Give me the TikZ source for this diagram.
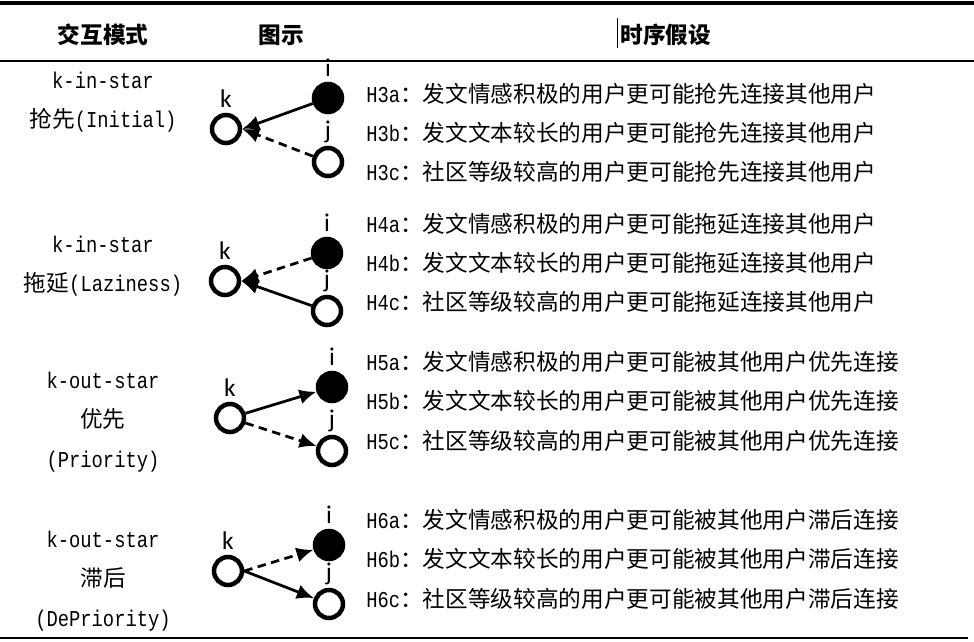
\documentclass[tikz,border=0pt]{standalone}
\usepackage{fontspec}
\usepackage{graphicx}
\setmainfont{Noto Sans CJK SC}
\newfontfamily\halfw{Liberation Mono}
\newfontfamily\vlabel{Carlito}
\usetikzlibrary{arrows.meta, positioning}

\newcommand{\hw}[1]{\scalebox{0.83}[1]{\halfw #1}}

\begin{document}
\begin{tikzpicture}[
      x=0.02cm, y=-0.02cm,
      txt/.style={inner sep=0pt, font=\fontsize{12.9pt}{22.4pt}\selectfont, align=center},
      hyp/.style={txt, anchor=west},
      head/.style={txt, font=\fontsize{12.9pt}{15pt}\selectfont\bfseries},
      openv/.style={circle, draw, line width=0.09cm, minimum size=0.56cm, inner sep=0pt},
      fullv/.style={openv, fill=black},
      vlab/.style={inner sep=0pt, font=\vlabel\fontsize{14.5pt}{16pt}\selectfont},
      arrow/.style={-{Latex[length=0.34cm, width=0.3cm]}, line width=0.055cm},
      dasharrow/.style={arrow, dash pattern=on 0.17cm off 0.11cm},
      rule/.style={line width=0.03cm}
    ]
      \useasboundingbox (0,0) rectangle (974,642);

      % Rules
      \draw[line width=0.07cm] (0,3) -- (974,3);
      \draw[rule] (0,61) -- (974,61);
      \draw[rule] (0,638) -- (968,638);

      % Header
      \node[head] (hmode) at (103,35) {交互模式};
      \node[head] (hfig) at (281,35) {图示};
      \node[head, anchor=west] (hhyp) at (620,35) {时序假设};
      \draw[line width=0.02cm] (617,18) -- (617,48);

      % Interaction modes
      \node[txt] (mode3) at (103,102) {\hw{k-in-star}\\抢先\hw{(Initial)}};
      \node[txt] (mode4) at (103,266) {\hw{k-in-star}\\拖延\hw{(Laziness)}};
      \node[txt] (mode5) at (103,422) {\hw{k-out-star}\\优先\\\hw{(Priority)}};
      \node[txt] (mode6) at (103,581) {\hw{k-out-star}\\滞后\\\hw{(DePriority)}};

      % Initial
      \node[openv] (k3) at (226,129) {};
      \node[fullv] (i3) at (328,98) {};
      \node[openv] (j3) at (328,162) {};
      \node[vlab, above=0.1cm of k3] (k3l) {k};
      \node[vlab, above=0.1cm of i3] (i3l) {i};
      \node[vlab, above=0.06cm of j3] (j3l) {j};
      \draw[arrow] (i3) -- (k3.east);
      \draw[dasharrow] (j3) -- (k3.east);

      % Laziness
      \node[openv] (k4) at (225,281) {};
      \node[fullv] (i4) at (327,253) {};
      \node[openv] (j4) at (327,311) {};
      \node[vlab, above=0.1cm of k4] (k4l) {k};
      \node[vlab, above=0.1cm of i4] (i4l) {i};
      \node[vlab, above=0.06cm of j4] (j4l) {j};
      \draw[dasharrow] (i4) -- (k4.east);
      \draw[arrow] (j4) -- (k4.east);

      % Priority
      \node[openv] (k5) at (230,418) {};
      \node[fullv] (i5) at (332,387) {};
      \node[openv] (j5) at (332,451) {};
      \node[vlab, above=0.1cm of k5] (k5l) {k};
      \node[vlab, above=0.1cm of i5] (i5l) {i};
      \node[vlab, above=0.06cm of j5] (j5l) {j};
      \draw[arrow] (k5) -- (i5);
      \draw[dasharrow] (k5) -- (j5);

      % DePriority
      \node[openv] (k6) at (228,571) {};
      \node[fullv] (i6) at (329,545) {};
      \node[openv] (j6) at (329,604) {};
      \node[vlab, above=0.1cm of k6] (k6l) {k};
      \node[vlab, above=0.1cm of i6] (i6l) {i};
      \node[vlab, above=0.06cm of j6] (j6l) {j};
      \draw[dasharrow] (k6.east) -- (i6);
      \draw[arrow] (k6.east) -- (j6);

      % Hypotheses
      \node[hyp] (h3a) at (366,94) {\hw{H3a}：发文情感积极的用户更可能抢先连接其他用户};
      \node[hyp] (h3b) at (366,133) {\hw{H3b}：发文文本较长的用户更可能抢先连接其他用户};
      \node[hyp] (h3c) at (366,172) {\hw{H3c}：社区等级较高的用户更可能抢先连接其他用户};
      \node[hyp] (h4a) at (366,224) {\hw{H4a}：发文情感积极的用户更可能拖延连接其他用户};
      \node[hyp] (h4b) at (366,263) {\hw{H4b}：发文文本较长的用户更可能拖延连接其他用户};
      \node[hyp] (h4c) at (366,302) {\hw{H4c}：社区等级较高的用户更可能拖延连接其他用户};
      \node[hyp] (h5a) at (366,362) {\hw{H5a}：发文情感积极的用户更可能被其他用户优先连接};
      \node[hyp] (h5b) at (366,401) {\hw{H5b}：发文文本较长的用户更可能被其他用户优先连接};
      \node[hyp] (h5c) at (366,441) {\hw{H5c}：社区等级较高的用户更可能被其他用户优先连接};
      \node[hyp] (h6a) at (366,520) {\hw{H6a}：发文情感积极的用户更可能被其他用户滞后连接};
      \node[hyp] (h6b) at (366,559) {\hw{H6b}：发文文本较长的用户更可能被其他用户滞后连接};
      \node[hyp] (h6c) at (366,599) {\hw{H6c}：社区等级较高的用户更可能被其他用户滞后连接};
    \end{tikzpicture}
\end{document}
